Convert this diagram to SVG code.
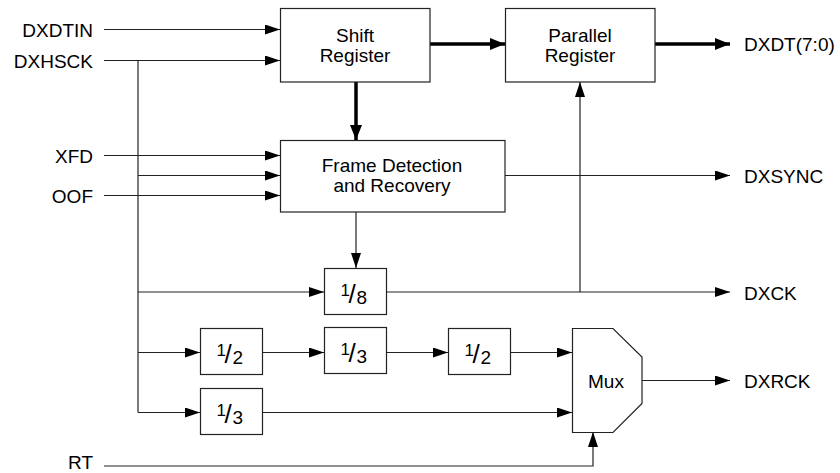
<svg xmlns="http://www.w3.org/2000/svg" width="840" height="473" viewBox="0 0 840 473">
<style>
.box{fill:#fff;stroke:#222;stroke-width:1.2}
.ln{fill:none;stroke:#222;stroke-width:1.2}
.thick{fill:none;stroke:#000;stroke-width:3.5}
.t{font-family:"Liberation Sans",Arial,sans-serif;font-size:19px;fill:#000}
.c{text-anchor:middle}
.r{text-anchor:end}
.num{font-size:17px}
.sl{font-size:26px}
.den{font-size:19px}
</style>
<defs>
<marker id="ah" markerUnits="userSpaceOnUse" markerWidth="15" markerHeight="10" refX="15" refY="5" orient="auto">
<path d="M0,0 L15,5 L0,10 z" fill="#000"/>
</marker>
<marker id="ahb" markerUnits="userSpaceOnUse" markerWidth="15" markerHeight="12" refX="15" refY="6" orient="auto">
<path d="M0,0 L15,6 L0,12 z" fill="#000"/>
</marker>
</defs>
<rect width="840" height="473" fill="#fff"/>

<g id="connectors">
<line class="ln" x1="104" y1="29.5" x2="280" y2="29.5" marker-end="url(#ah)"/>
<line class="ln" x1="104" y1="60.5" x2="280" y2="60.5" marker-end="url(#ah)"/>
<line class="ln" x1="138" y1="60.5" x2="138" y2="412.5"/>
<line class="ln" x1="104" y1="155.5" x2="280" y2="155.5" marker-end="url(#ah)"/>
<line class="ln" x1="138" y1="175.5" x2="280" y2="175.5" marker-end="url(#ah)"/>
<line class="ln" x1="104" y1="195.5" x2="280" y2="195.5" marker-end="url(#ah)"/>
<line class="thick" x1="430" y1="44" x2="505" y2="44" marker-end="url(#ahb)"/>
<line class="thick" x1="655" y1="44" x2="730" y2="44" marker-end="url(#ahb)"/>
<line class="thick" x1="356" y1="82" x2="356" y2="140" marker-end="url(#ahb)"/>
<line class="ln" x1="505" y1="175.5" x2="730" y2="175.5" marker-end="url(#ah)"/>
<line class="ln" x1="356" y1="212" x2="356" y2="268" marker-end="url(#ah)"/>
<line class="ln" x1="138" y1="292" x2="324" y2="292" marker-end="url(#ah)"/>
<line class="ln" x1="386" y1="292" x2="730" y2="292" marker-end="url(#ah)"/>
<line class="ln" x1="580" y1="292" x2="580" y2="82" marker-end="url(#ah)"/>
<line class="ln" x1="138" y1="352.5" x2="200" y2="352.5" marker-end="url(#ah)"/>
<line class="ln" x1="262" y1="352.5" x2="324" y2="352.5" marker-end="url(#ah)"/>
<line class="ln" x1="386" y1="352.5" x2="448" y2="352.5" marker-end="url(#ah)"/>
<line class="ln" x1="510" y1="352.5" x2="572" y2="352.5" marker-end="url(#ah)"/>
<line class="ln" x1="138" y1="412.5" x2="200" y2="412.5" marker-end="url(#ah)"/>
<line class="ln" x1="262" y1="412.5" x2="572" y2="412.5" marker-end="url(#ah)"/>
<line class="ln" x1="642" y1="380.5" x2="730" y2="380.5" marker-end="url(#ah)"/>
<polyline class="ln" points="104,466 593,466 593,432" marker-end="url(#ah)"/>
</g>

<g id="labels">
<text class="t r" x="93" y="37">DXDTIN</text>
<text class="t r" x="93" y="68">DXHSCK</text>
<text class="t r" x="93" y="163">XFD</text>
<text class="t r" x="93" y="203">OOF</text>
<text class="t r" x="93" y="469">RT</text>
<text class="t" x="744" y="51">DXDT(7:0)</text>
<text class="t" x="744" y="183">DXSYNC</text>
<text class="t" x="744" y="299.5">DXCK</text>
<text class="t" x="744" y="388">DXRCK</text>
</g>

<g id="shift-register">
<rect class="box" x="280.5" y="8.5" width="149.5" height="73.5"/>
<text class="t c" x="355" y="41.5">Shift</text>
<text class="t c" x="355" y="62">Register</text>
</g>

<g id="parallel-register">
<rect class="box" x="505.5" y="8.5" width="149.5" height="73.5"/>
<text class="t c" x="580" y="41.5">Parallel</text>
<text class="t c" x="580" y="62">Register</text>
</g>

<g id="frame-detection">
<rect class="box" x="280.5" y="140.5" width="224.5" height="71.5"/>
<text class="t c" x="392" y="172">Frame Detection</text>
<text class="t c" x="392" y="192">and Recovery</text>
</g>

<g id="div8">
<rect class="box" x="324.5" y="268.5" width="62" height="46"/>
<text class="t"><tspan class="num" x="340.5" y="295.5">1</tspan><tspan class="sl" x="348.5" y="303">/</tspan><tspan class="den" x="356.5" y="303.5">8</tspan></text>
</g>

<g id="div2a">
<rect class="box" x="200.5" y="328.5" width="62" height="46"/>
<text class="t"><tspan class="num" x="216.5" y="355.5">1</tspan><tspan class="sl" x="224.5" y="363">/</tspan><tspan class="den" x="232.5" y="363.5">2</tspan></text>
</g>

<g id="div3a">
<rect class="box" x="324.5" y="327.5" width="62" height="46"/>
<text class="t"><tspan class="num" x="340.5" y="354.5">1</tspan><tspan class="sl" x="348.5" y="362">/</tspan><tspan class="den" x="356.5" y="362.5">3</tspan></text>
</g>

<g id="div2b">
<rect class="box" x="448.5" y="328.5" width="62" height="46"/>
<text class="t"><tspan class="num" x="464.5" y="355.5">1</tspan><tspan class="sl" x="472.5" y="363">/</tspan><tspan class="den" x="480.5" y="363.5">2</tspan></text>
</g>

<g id="div3b">
<rect class="box" x="200.5" y="388.5" width="62" height="46"/>
<text class="t"><tspan class="num" x="216.5" y="415.5">1</tspan><tspan class="sl" x="224.5" y="423">/</tspan><tspan class="den" x="232.5" y="423.5">3</tspan></text>
</g>

<g id="mux">
<polygon class="box" points="572.5,328.5 613,328.5 642,357 642,403.5 613,432.5 572.5,432.5"/>
<text class="t c" x="606" y="388">Mux</text>
</g>
</svg>
